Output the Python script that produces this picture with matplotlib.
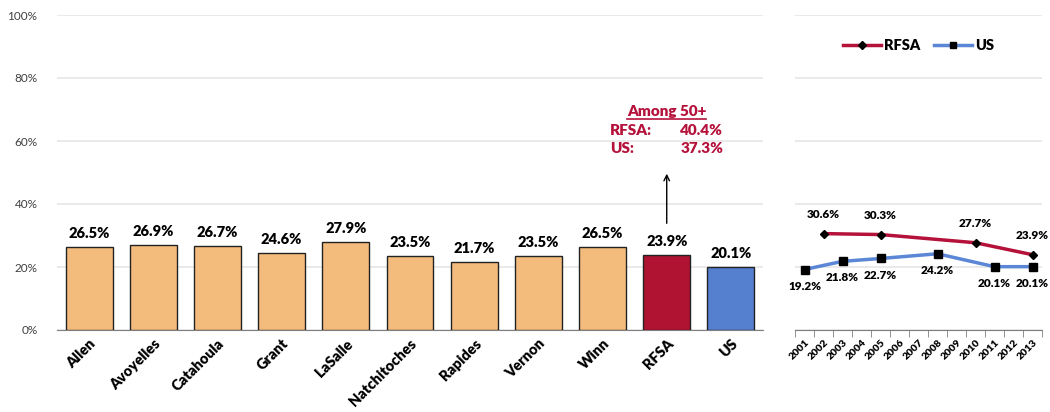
import numpy as np
import matplotlib
matplotlib.use('Agg')
import matplotlib.pyplot as plt
from matplotlib.ticker import PercentFormatter

plt.rcParams['font.family'] = ['Lato', 'DejaVu Sans']

# parish bar chart
parishes = ['Allen', 'Avoyelles', 'Catahoula', 'Grant', 'LaSalle', 'Natchitoches',
            'Rapides', 'Vernon', 'Winn', 'RFSA', 'US']
rates = [26.5, 26.9, 26.7, 24.6, 27.9, 23.5, 21.7, 23.5, 26.5, 23.9, 20.1]
bar_colors = ['#F4BC7C'] * 9 + ['#B01232', '#5580D0']

# trend chart
years = [str(y) for y in range(2001, 2014)]
rfsa_years = ['2002', '2005', '2010', '2013']
rfsa_vals = [30.6, 30.3, 27.7, 23.9]
us_years = ['2001', '2003', '2005', '2008', '2011', '2013']
us_vals = [19.2, 21.8, 22.7, 24.2, 20.1, 20.1]

# note for 50+
note_title = 'Among 50+'
note_rows = [('RFSA:', '40.4%'), ('US:', '37.3%')]

RED = '#B5123B'
BLUE = '#5B87D6'
GRID = '#E6E6E6'

W, H = 1050, 412
fig = plt.figure(figsize=(W / 100, H / 100), dpi=100)

def px_axes(x0, y0, x1, y1):
    return fig.add_axes([x0 / W, 1 - y1 / H, (x1 - x0) / W, (y1 - y0) / H])

ax = px_axes(57, 15, 763, 330)
x = np.arange(len(parishes))
bars = ax.bar(x, rates, width=0.73, color=bar_colors, edgecolor='#222222', linewidth=1.0, zorder=3)
ax.set_xlim(-0.5, len(parishes) - 0.5)
ax.set_ylim(0, 100)
ax.set_yticks(range(0, 101, 20))
ax.yaxis.set_major_formatter(PercentFormatter(decimals=0))
ax.grid(axis='y', color=GRID, linewidth=1.2, zorder=0)
for s in ['top', 'right', 'left']:
    ax.spines[s].set_visible(False)
ax.spines['bottom'].set_color('#7F7F7F')
ax.tick_params(axis='y', length=0, labelsize=8.5, labelcolor='#404040', pad=14)
ax.tick_params(axis='x', length=0, pad=5)
ax.set_xticks(x)
ax.set_xticklabels(parishes, rotation=45, ha='right', rotation_mode='anchor',
                   fontsize=10.5, fontweight='heavy')
for xi, v in zip(x, rates):
    ax.annotate(f'{v:.1f}%', (xi, v), xytext=(0, 5), textcoords='offset points',
                ha='center', va='bottom', fontsize=10.5, fontweight='heavy')

# callout over RFSA bar
ri = parishes.index('RFSA')
ax.annotate('', xy=(ri, 50.5), xytext=(ri, 33),
            arrowprops=dict(arrowstyle='->', color='black', lw=1.0))
note = ax.text(ri, 69.5, note_title, ha='center', va='center', color=RED,
               fontsize=11, fontweight='heavy', zorder=5)
for (lab, val), yv in zip(note_rows, [63.3, 57.6]):
    ax.text(ri - 0.88, yv, lab, ha='left', va='center', color=RED,
            fontsize=11, fontweight='heavy', zorder=5)
    ax.text(ri + 0.88, yv, val, ha='right', va='center', color=RED,
            fontsize=11, fontweight='heavy', zorder=5)
ax.axvspan(ri - 1.05, ri + 1.05, ymin=0.55, ymax=0.72, color='white', zorder=1)

# line chart
ax2 = px_axes(795, 15, 1042, 330)
pos = {y: i for i, y in enumerate(years)}
rx = [pos[y] for y in rfsa_years]
ux = [pos[y] for y in us_years]
ax2.plot(rx, rfsa_vals, color=RED, lw=2.5, marker='D', ms=4.5, mfc='black', mec='black',
         label='RFSA', zorder=4)
ax2.plot(ux, us_vals, color=BLUE, lw=2.5, marker='s', ms=5.5, mfc='black', mec='black',
         label='US', zorder=4)
for xi, v in zip(rx, rfsa_vals):
    ax2.annotate(f'{v:.1f}%', (xi, v), xytext=(0, 10), textcoords='offset points',
                 ha='center', va='bottom', fontsize=8.5, fontweight='heavy')
for xi, v in zip(ux, us_vals):
    ax2.annotate(f'{v:.1f}%', (xi, v), xytext=(0, -8), textcoords='offset points',
                 ha='center', va='top', fontsize=8.5, fontweight='heavy')
ax2.set_xlim(-0.5, len(years) - 0.5)
ax2.set_ylim(0, 100)
ax2.set_yticks(range(0, 101, 20))
ax2.tick_params(axis='y', which='both', left=False, right=False, labelleft=False)
ax2.grid(axis='y', color=GRID, linewidth=1.2, zorder=0)
for s in ['top', 'right', 'left']:
    ax2.spines[s].set_visible(False)
ax2.spines['bottom'].set_color('#7F7F7F')
ax2.set_xticks(np.arange(len(years) + 1) - 0.5, minor=True)
ax2.tick_params(axis='x', which='minor', length=5, color='#7F7F7F', direction='out')
ax2.set_xticks(np.arange(len(years)))
ax2.set_xticklabels(years, rotation=45, ha='right', rotation_mode='anchor',
                    fontsize=7.5, fontweight='heavy')
ax2.tick_params(axis='x', which='major', length=0, pad=6)
ax2.legend(loc='upper center', bbox_to_anchor=(0.5, 0.965), ncol=2, frameon=False,
           prop={'weight': 'heavy', 'size': 10.5}, handlelength=2.6, handletextpad=0.2,
           columnspacing=1.0, markerscale=0.8)

# underline the note heading, in data coords of the bar axes
fig.canvas.draw()
bb = note.get_window_extent()
inv = ax.transData.inverted()
(ux0, uy), (ux1, _) = inv.transform([(bb.x0, bb.y0 - 1), (bb.x1, bb.y0 - 1)])
ax.plot([ux0, ux1], [uy, uy], color=RED, lw=1.2, zorder=5)

fig.savefig('out.png', dpi=100)
